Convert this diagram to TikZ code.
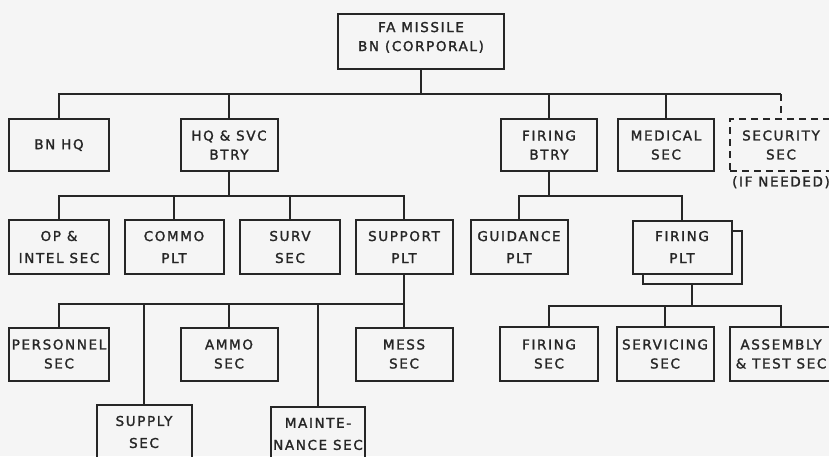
\documentclass[tikz,border=0pt]{standalone}
\usepackage{fontspec}
\setmainfont{DejaVu Sans}[LetterSpace=12,FakeBold=1.6]
\usepackage{tikz}
\usetikzlibrary{calc}

\tikzset{
	unit/.style={draw, line width=2pt, align=center, inner sep=0pt,
		minimum width=#1, minimum height=54, font=\fontsize{13.5}{19}\selectfont},
	unit/.default=100,
	wide/.style={font=\fontsize{13.5}{22}\selectfont},
	link/.style={line width=2pt}
}

\begin{document}
\begin{tikzpicture}[x=1pt,y=-1pt,black!85]
			\useasboundingbox (0,0) rectangle (829,456);
			\fill[black!4] (0,0) rectangle (829,456);
			\clip (0,0) rectangle (829,456);
			% battalion
			\node[unit=166,minimum height=55,text depth=10pt] (bn) at (421,41.5) {FA MISSILE\\BN (CORPORAL)};
			\node[unit=100,minimum height=52] (bnhq) at (59,145) {BN HQ};
			\node[unit=97,minimum height=52] (hqsvc) at (229,145) {HQ \& SVC\\BTRY};
			\node[unit=96,minimum height=52] (firbtry) at (549,145) {FIRING\\BTRY};
			\node[unit=96,minimum height=52] (medsec) at (666,145) {MEDICAL\\SEC};
			\node[unit=102,minimum height=52,dashed,dash pattern=on 7pt off 5pt] (secsec) at (781,145) {SECURITY\\SEC};
			\node[font=\fontsize{13.5}{15}\selectfont,anchor=north,inner sep=4pt] (ifneed) at (secsec.south) {(IF NEEDED)};
			% hq & svc btry
			\node[unit=100,wide] (opintel) at (59,247) {OP \&\\INTEL SEC};
			\node[unit=99,wide] (commo) at (174,247) {COMMO\\PLT};
			\node[unit=100,wide] (surv) at (290,247) {SURV\\SEC};
			\node[unit=97,wide] (suppplt) at (404,247) {SUPPORT\\PLT};
			% firing btry
			\node[unit=97,wide] (guid) at (519,247) {GUIDANCE\\PLT};
			\node[unit=99,minimum height=53,fill=black!4] (firplt2) at (692,257) {};
			\node[unit=99,minimum height=53,fill=black!4,wide] (firplt) at (682,247) {FIRING\\PLT};
			% support plt
			\node[unit=100,minimum height=53] (pers) at (59,354) {PERSONNEL\\SEC};
			\node[unit=97,minimum height=53] (ammo) at (229,354) {AMMO\\SEC};
			\node[unit=97,minimum height=53] (mess) at (404,354) {MESS\\SEC};
			\node[unit=95,wide] (supply) at (144,432) {SUPPLY\\SEC};
			\node[unit=94,wide] (maint) at (318,434) {MAINTE-\\NANCE SEC};
			% firing plt
			\node[unit=98] (firsec) at (549,354) {FIRING\\SEC};
			\node[unit=97] (servsec) at (665,354) {SERVICING\\SEC};
			\node[unit=102] (asmsec) at (781,354) {ASSEMBLY\\\& TEST SEC};

			\coordinate (bus1) at ($(bn.south)+(0,24)$);
			\coordinate (bus2) at ($(hqsvc.south)+(0,24)$);
			\coordinate (bus3) at ($(firbtry.south)+(0,24)$);
			\coordinate (bus4) at ($(suppplt.south)+(0,29)$);
			\coordinate (bus5) at ($(firplt2.south)+(0,21)$);

			\draw[link] (bn.south) -- (bus1);
			\draw[link] (bnhq.north) -- (bnhq.north |- bus1) -- (secsec.north |- bus1);
			\foreach \n in {hqsvc,firbtry,medsec}{
				\draw[link] (\n.north) -- (\n.north |- bus1);
			}
			\draw[link,dash pattern=on 7pt off 5pt] (secsec.north |- bus1) -- (secsec.north);

			\draw[link] (hqsvc.south) -- (bus2);
			\draw[link] (opintel.north) -- (opintel.north |- bus2) -- (suppplt.north |- bus2) -- (suppplt.north);
			\foreach \n in {commo,surv}{
				\draw[link] (\n.north) -- (\n.north |- bus2);
			}

			\draw[link] (firbtry.south) -- (bus3);
			\draw[link] (guid.north) -- (guid.north |- bus3) -- (firplt.north |- bus3) -- (firplt.north);

			\draw[link] (suppplt.south) -- (bus4);
			\draw[link] (pers.north) -- (pers.north |- bus4) -- (mess.north |- bus4) -- (mess.north);
			\foreach \n in {supply,ammo,maint}{
				\draw[link] (\n.north) -- (\n.north |- bus4);
			}

			\draw[link] (firplt2.south) -- (bus5);
			\draw[link] (firsec.north) -- (firsec.north |- bus5) -- (asmsec.north |- bus5) -- (asmsec.north);
			\draw[link] (servsec.north) -- (servsec.north |- bus5);
		\end{tikzpicture}
\end{document}
